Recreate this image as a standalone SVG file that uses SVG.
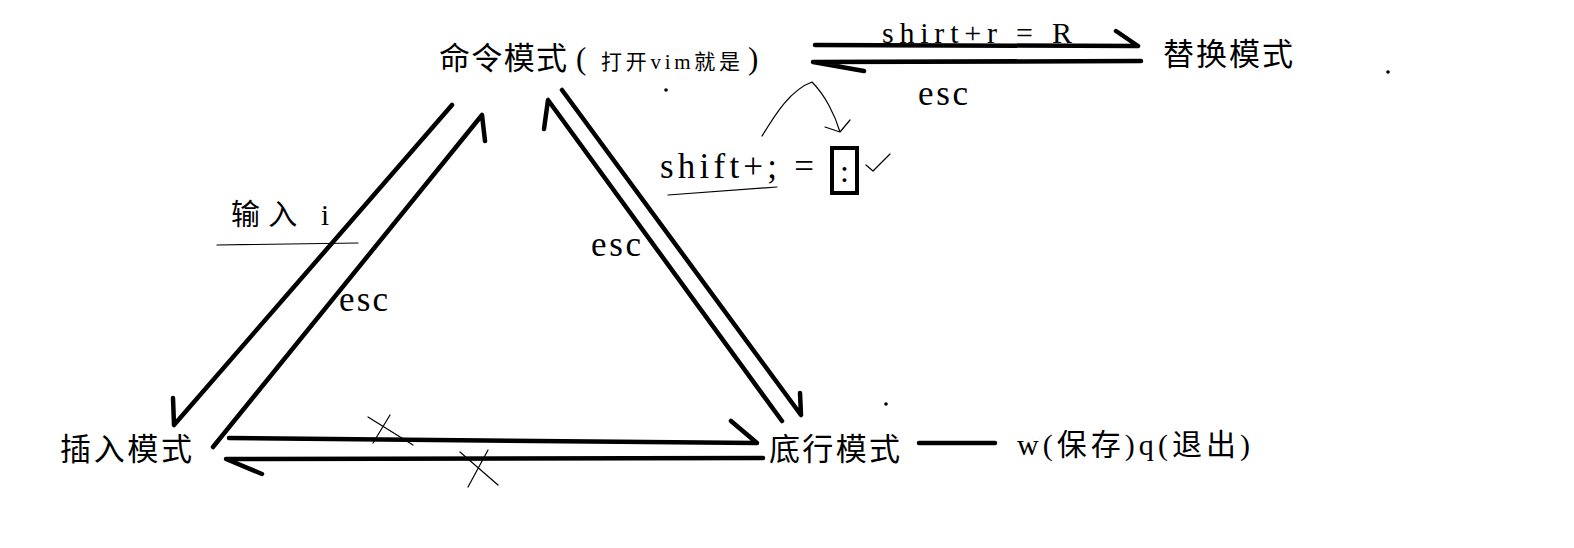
<svg xmlns="http://www.w3.org/2000/svg" width="1574" height="548" viewBox="0 0 1574 548">
<style>
.cn{font-family:"Liberation Serif","Noto Sans CJK SC",serif;fill:#000}
.lt{font-family:"Liberation Serif",serif;fill:#000}
.thick{stroke:#000;stroke-width:4.5;fill:none;stroke-linecap:round;stroke-linejoin:round}
.thin{stroke:#000;stroke-width:1.2;fill:none;stroke-linecap:round;stroke-linejoin:round}
</style>
<rect width="1574" height="548" fill="#fff"/>
<g id="node-command">
<text class="cn" y="69"><tspan x="439" font-size="31" textLength="128" lengthAdjust="spacing">命令模式</tspan><tspan x="576" font-size="31">(</tspan><tspan x="601" font-size="21" textLength="139" lengthAdjust="spacing">打开vim就是</tspan><tspan x="748" font-size="31">)</tspan></text>
</g>
<g id="node-replace">
<text class="cn" x="1163" y="65" font-size="31" textLength="130" lengthAdjust="spacing">替换模式</text>
</g>
<g id="node-insert">
<text class="cn" x="60" y="460" font-size="31" textLength="132" lengthAdjust="spacing">插入模式</text>
</g>
<g id="node-bottom">
<text class="cn" x="769" y="460" font-size="31" textLength="131" lengthAdjust="spacing">底行模式</text>
</g>
<g id="node-savequit">
<text class="cn" x="1017" y="455" font-size="30" textLength="233" lengthAdjust="spacing">w(保存)q(退出)</text>
</g>
<g id="connectors">
<path class="thick" d="M815,45 L1138,46 M1116,31 L1138,46"/>
<path class="thick" d="M1141,61 L813,62 L864,71"/>
<path class="thick" d="M452,105 L174,425 L173,398"/>
<path class="thick" d="M213,447 L482,115 L485,141"/>
<path class="thick" d="M562,90 L801,415 L800,393"/>
<path class="thick" d="M782,421 L548,100 L544,129"/>
<path class="thick" d="M229,438 L757,443 L731,421"/>
<path class="thick" d="M763,458 L226,459 L262,474"/>
<path class="thick" d="M919,443 L995,443"/>
<path class="thin" d="M368,417 L413,445 M390,415 L373,443"/>
<path class="thin" d="M460,452 L498,485 M488,450 L468,487"/>
<path class="thin" d="M762,136 C775,115 790,90 812,82 C825,95 835,115 840,132 M825,127 L840,132 L850,120"/>
<path class="thin" d="M217,245 L358,243"/>
<path class="thin" d="M668,195 L777,187"/>
</g>
<g id="labels">
<text class="lt" x="882" y="43" font-size="30" textLength="190" lengthAdjust="spacing">shirt+r = R</text>
<text class="lt" x="918" y="105" font-size="35" textLength="50" lengthAdjust="spacing">esc</text>
<text class="lt" x="660" y="178" font-size="35" textLength="154" lengthAdjust="spacing">shift+; =</text>
<rect x="832" y="148" width="25" height="45" fill="none" stroke="#000" stroke-width="4"/>
<text class="lt" x="840" y="182" font-size="32">:</text>
<path class="thin" d="M866,165 L873,171 L890,154"/>
<text class="cn" x="231" y="225" font-size="29" textLength="98" lengthAdjust="spacing">输入 i</text>
<text class="lt" x="339" y="311" font-size="35" textLength="49" lengthAdjust="spacing">esc</text>
<text class="lt" x="591" y="256" font-size="35" textLength="50" lengthAdjust="spacing">esc</text>
<circle cx="666" cy="90" r="1.8" fill="#000"/>
<circle cx="1388" cy="72" r="1.8" fill="#000"/>
<circle cx="886" cy="404" r="1.8" fill="#000"/>
</g>
</svg>
